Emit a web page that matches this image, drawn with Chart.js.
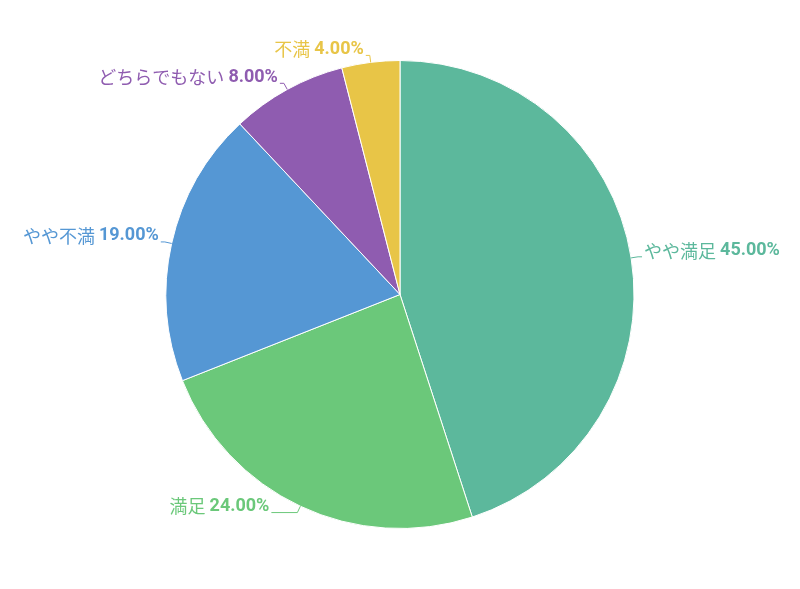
<!DOCTYPE html>
<html>
<head>
<meta charset="utf-8">
<script src="https://cdn.jsdelivr.net/npm/chart.js@4"></script>
<style>
  html, body { margin: 0; padding: 0; background: #fff; }
  #wrap { width: 800px; height: 589px; }
</style>
</head>
<body>
<div id="wrap"><canvas id="pieChart"></canvas></div>
<script>
const labels = ["やや満足", "満足", "やや不満", "どちらでもない", "不満"];
const values = [45, 24, 19, 8, 4];
const colors = ["#5cb89c", "#6bc87a", "#5597d4", "#8f5cb0", "#e8c547"];

// outside labels with short leader lines
const outLabels = {
  id: "outLabels",
  afterDatasetsDraw(chart) {
    const { ctx } = chart;
    const meta = chart.getDatasetMeta(0);
    ctx.save();
    meta.data.forEach((arc, i) => {
      const { x, y, startAngle, endAngle, outerRadius } = arc.getProps(
        ["x", "y", "startAngle", "endAngle", "outerRadius"], true);
      const mid = (startAngle + endAngle) / 2;
      const cos = Math.cos(mid), sin = Math.sin(mid);
      const right = cos >= 0;
      const x0 = x + cos * outerRadius, y0 = y + sin * outerRadius;
      const x1 = x + cos * (outerRadius + 7), y1 = y + sin * (outerRadius + 7);
      // labels near the bottom get a longer tail
      const len2 = sin > 0.8 ? 26 : 4;
      const x2 = x1 + (right ? len2 : -len2);
      ctx.strokeStyle = colors[i];
      ctx.lineWidth = 1;
      ctx.beginPath();
      ctx.moveTo(x0, y0);
      ctx.lineTo(x1, y1);
      ctx.lineTo(x2, y1);
      ctx.stroke();

      const name = labels[i] + " ";
      const val = values[i].toFixed(2) + "%";
      const fName = "18px 'Noto Sans CJK JP', Roboto, sans-serif";
      const fVal = "bold 18px Roboto, 'Noto Sans CJK JP', sans-serif";
      ctx.font = fName;
      const wName = ctx.measureText(name).width;
      ctx.font = fVal;
      const wVal = ctx.measureText(val).width;
      let tx = right ? x2 + 2 : x2 - 2 - wName - wVal;
      const ty = y1 - 6;
      ctx.fillStyle = colors[i];
      ctx.textBaseline = "middle";
      ctx.textAlign = "left";
      ctx.font = fName;
      ctx.fillText(name, tx, ty);
      ctx.font = fVal;
      ctx.fillText(val, tx + wName, ty);
    });
    ctx.restore();
  },
};

new Chart(document.getElementById("pieChart"), {
  type: "pie",
  data: {
    labels: labels,
    datasets: [
      {
        data: values,
        backgroundColor: colors,
        borderColor: "#ffffff",
        borderWidth: 1,
      },
    ],
  },
  options: {
    responsive: true,
    maintainAspectRatio: false,
    animation: false,
    layout: {
      padding: { top: 60, bottom: 60, left: 60, right: 60 },
    },
    plugins: {
      legend: { display: false },
      tooltip: { enabled: false },
    },
  },
  plugins: [outLabels],
});
</script>
</body>
</html>
